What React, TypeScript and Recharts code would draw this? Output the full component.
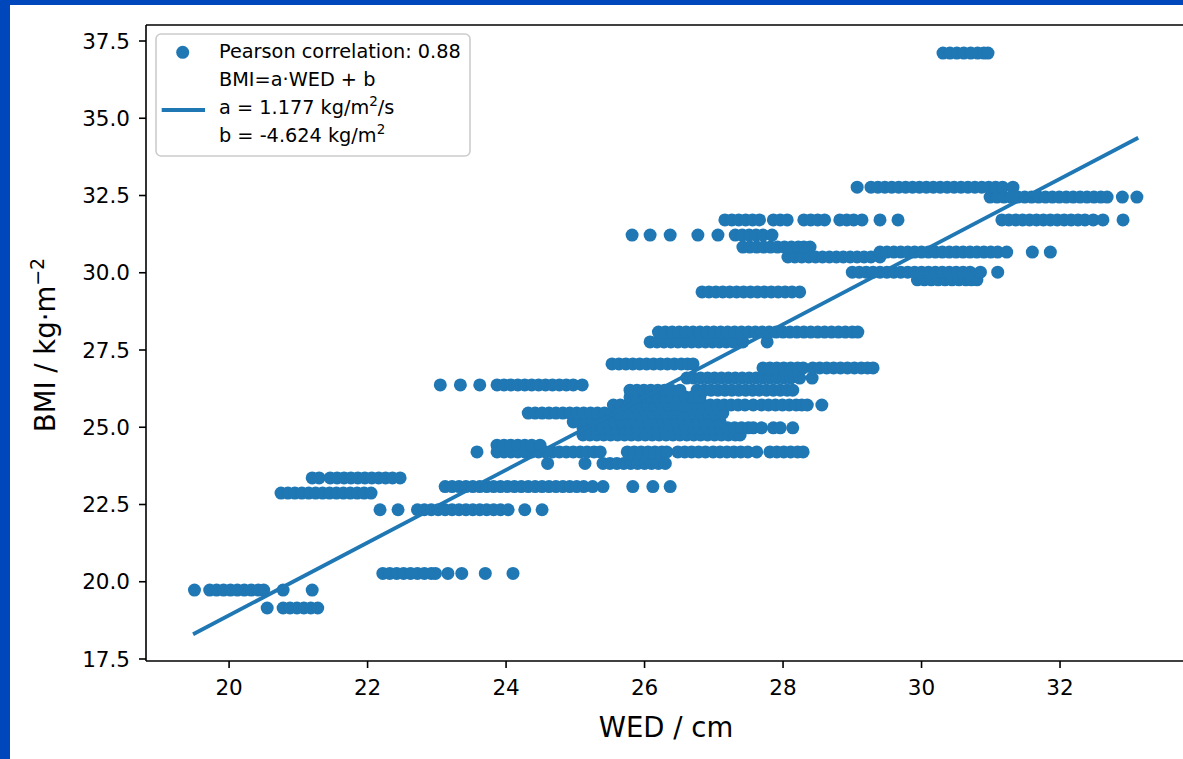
import { ScatterChart, Scatter, XAxis, YAxis, Legend } from "recharts";

const xTicks = [20, 22, 24, 26, 28, 30, 32];
const yTicks = [17.5, 20, 22.5, 25, 27.5, 30, 32.5, 35, 37.5];
const xDomain: [number, number] = [18.8, 33.877];
const yDomain: [number, number] = [17.435, 38.018];

// WED values (cm) of the points that sit on each BMI level
const wedAt19_15 = [20.55, 20.78, 20.88, 20.98, 21.08, 21.18, 21.28];
const wedAt19_73 = [19.5, 19.72, 19.82, 19.92, 20.02, 20.12, 20.22, 20.32, 20.42, 20.5, 20.78, 21.2];
const wedAt20_27 = [22.22, 22.32, 22.42, 22.52, 22.62, 22.72, 22.82, 22.92, 22.98, 23.16, 23.36, 23.7, 24.1];
const wedAt22_33 = [22.18, 22.44, 22.72, 22.82, 22.92, 23.02, 23.12, 23.22, 23.32, 23.42, 23.52, 23.62, 23.72, 23.82, 23.92, 24.03, 24.27, 24.52];
const wedAt22_87 = [20.75, 20.85, 20.95, 21.05, 21.15, 21.25, 21.35, 21.45, 21.55, 21.65, 21.75, 21.85, 21.95, 22.05];
const wedAt23_08 = [23.12, 23.22, 23.32, 23.42, 23.52, 23.62, 23.72, 23.82, 23.92, 24.02, 24.12, 24.22, 24.32, 24.42, 24.52, 24.62, 24.72, 24.82, 24.92, 25.02, 25.12, 25.25, 25.4, 25.83, 26.12, 26.37];
const wedAt23_36 = [21.2, 21.3, 21.46, 21.56, 21.66, 21.76, 21.86, 21.96, 22.06, 22.16, 22.26, 22.36, 22.47];
const wedAt23_83 = [24.6, 25.14, 25.4, 25.5, 25.6, 25.7, 25.8, 25.9, 26.0, 26.1, 26.2, 26.3];
const wedAt24_2 = [23.58, 23.87, 23.97, 24.07, 24.17, 24.27, 24.37, 24.47, 24.57, 24.67, 24.77, 24.87, 24.97, 25.07, 25.17, 25.27, 25.36, 25.75, 25.85, 25.95, 26.05, 26.15, 26.25, 26.32, 26.48, 26.58, 26.68, 26.78, 26.88, 26.99, 27.09, 27.19, 27.29, 27.39, 27.49, 27.62, 27.81, 27.91, 28.01, 28.11, 28.21, 28.29];
const wedAt24_42 = [23.87, 23.97, 24.07, 24.17, 24.27, 24.37, 24.49];
const wedAt24_75 = [25.11, 25.21, 25.31, 25.41, 25.51, 25.61, 25.71, 25.81, 25.91, 26.01, 26.11, 26.21, 26.31, 26.41, 26.51, 26.61, 26.71, 26.81, 26.91, 27.01, 27.11, 27.21, 27.31, 27.38];
const wedAt24_98 = [25.11, 25.2, 25.3, 25.4, 25.5, 25.6, 25.7, 25.8, 25.9, 26.0, 26.1, 26.2, 26.3, 26.4, 26.5, 26.6, 26.7, 26.8, 26.9, 27.0, 27.1, 27.2, 27.3, 27.4, 27.5, 27.57, 27.69, 27.86, 27.96, 28.14];
const wedAt25_17 = [24.97, 25.07, 25.17, 25.27, 25.37, 25.47, 25.57, 25.67, 25.77, 25.87, 25.97, 26.07, 26.17, 26.27, 26.37, 26.47, 26.57, 26.67, 26.77, 26.87, 26.97, 27.09];
const wedAt25_46 = [24.32, 24.42, 24.52, 24.62, 24.72, 24.82, 24.92, 25.02, 25.12, 25.22, 25.32, 25.42, 25.52, 25.62, 25.72, 25.82, 25.92, 26.02, 26.12, 26.22, 26.32, 26.42, 26.52, 26.62, 26.72, 26.82, 26.92, 27.02, 27.13];
const wedAt25_72 = [25.55, 25.65, 25.75, 25.85, 25.95, 26.05, 26.15, 26.25, 26.35, 26.45, 26.55, 26.65, 26.75, 26.85, 26.95, 27.05, 27.15, 27.25, 27.35, 27.45, 27.57, 27.69, 27.79, 27.89, 27.99, 28.09, 28.19, 28.27, 28.35, 28.56];
const wedAt25_98 = [25.79, 25.89, 25.99, 26.09, 26.19, 26.29, 26.39, 26.49, 26.59, 26.69, 26.8];
const wedAt26_2 = [25.79, 25.89, 25.99, 26.09, 26.19, 26.29, 26.39, 26.51, 26.76, 26.86, 26.96, 27.06, 27.16, 27.26, 27.36, 27.46, 27.56, 27.66, 27.76, 27.86, 27.96, 28.06, 28.14];
const wedAt26_37 = [23.05, 23.34, 23.62, 23.87, 23.97, 24.07, 24.17, 24.27, 24.37, 24.47, 24.57, 24.67, 24.77, 24.87, 24.97, 25.1];
const wedAt26_59 = [26.61, 26.71, 26.81, 26.91, 27.01, 27.11, 27.21, 27.31, 27.41, 27.51, 27.61, 27.71, 27.81, 27.91, 28.01, 28.11, 28.24, 28.42];
const wedAt26_92 = [27.71, 27.81, 27.91, 28.01, 28.11, 28.21, 28.29, 28.43, 28.53, 28.63, 28.73, 28.83, 28.93, 29.03, 29.13, 29.22, 29.3];
const wedAt27_05 = [25.53, 25.63, 25.73, 25.83, 25.93, 26.03, 26.13, 26.23, 26.33, 26.43, 26.53, 26.62, 26.7];
const wedAt27_76 = [26.08, 26.18, 26.28, 26.38, 26.48, 26.58, 26.68, 26.78, 26.88, 26.98, 27.08, 27.18, 27.28, 27.42, 27.77];
const wedAt28_08 = [26.2, 26.3, 26.4, 26.5, 26.6, 26.7, 26.8, 26.9, 27.0, 27.1, 27.2, 27.3, 27.4, 27.5, 27.6, 27.7, 27.8, 27.9, 28.0, 28.1, 28.2, 28.3, 28.4, 28.5, 28.6, 28.7, 28.8, 28.9, 29.0, 29.08];
const wedAt29_38 = [26.83, 26.93, 27.03, 27.13, 27.23, 27.33, 27.43, 27.53, 27.63, 27.73, 27.83, 27.93, 28.03, 28.13, 28.24];
const wedAt29_77 = [29.94, 30.04, 30.14, 30.24, 30.34, 30.44, 30.54, 30.64, 30.72, 30.8];
const wedAt30_02 = [29.0, 29.1, 29.2, 29.3, 29.4, 29.5, 29.6, 29.7, 29.8, 29.9, 30.0, 30.1, 30.2, 30.3, 30.4, 30.5, 30.6, 30.7, 30.85, 31.1];
const wedAt30_51 = [28.07, 28.17, 28.27, 28.37, 28.47, 28.57, 28.67, 28.77, 28.87, 28.97, 29.07, 29.17, 29.27, 29.4];
const wedAt30_67 = [29.4, 29.5, 29.6, 29.7, 29.8, 29.9, 30.0, 30.1, 30.2, 30.3, 30.4, 30.5, 30.6, 30.7, 30.8, 30.9, 31.0, 31.1, 31.23, 31.6, 31.86];
const wedAt30_83 = [27.42, 27.52, 27.62, 27.72, 27.82, 27.92, 28.02, 28.12, 28.22, 28.3, 28.39];
const wedAt31_22 = [25.82, 26.08, 26.37, 26.77, 27.06, 27.31, 27.41, 27.51, 27.61, 27.71, 27.84];
const wedAt31_71 = [27.16, 27.26, 27.36, 27.46, 27.56, 27.66, 27.86, 27.96, 28.06, 28.3, 28.4, 28.5, 28.6, 28.82, 28.92, 29.02, 29.14, 29.4, 29.66, 31.16, 31.26, 31.36, 31.46, 31.56, 31.66, 31.76, 31.86, 31.96, 32.06, 32.16, 32.26, 32.36, 32.48, 32.62, 32.91];
const wedAt32_45 = [30.99, 31.09, 31.19, 31.29, 31.39, 31.49, 31.59, 31.69, 31.79, 31.89, 31.99, 32.09, 32.19, 32.29, 32.39, 32.49, 32.59, 32.68, 32.9, 33.11];
const wedAt32_77 = [29.07, 29.27, 29.37, 29.47, 29.57, 29.67, 29.77, 29.87, 29.97, 30.07, 30.17, 30.27, 30.37, 30.47, 30.57, 30.67, 30.77, 30.87, 30.97, 31.07, 31.17, 31.32];
const wedAt37_11 = [30.31, 30.41, 30.51, 30.61, 30.71, 30.81, 30.9, 30.96];

const bmiRows: [number, number[]][] = [
  [19.15, wedAt19_15],
  [19.73, wedAt19_73],
  [20.27, wedAt20_27],
  [22.33, wedAt22_33],
  [22.87, wedAt22_87],
  [23.08, wedAt23_08],
  [23.36, wedAt23_36],
  [23.83, wedAt23_83],
  [24.2, wedAt24_2],
  [24.42, wedAt24_42],
  [24.75, wedAt24_75],
  [24.98, wedAt24_98],
  [25.17, wedAt25_17],
  [25.46, wedAt25_46],
  [25.72, wedAt25_72],
  [25.98, wedAt25_98],
  [26.2, wedAt26_2],
  [26.37, wedAt26_37],
  [26.59, wedAt26_59],
  [26.92, wedAt26_92],
  [27.05, wedAt27_05],
  [27.76, wedAt27_76],
  [28.08, wedAt28_08],
  [29.38, wedAt29_38],
  [29.77, wedAt29_77],
  [30.02, wedAt30_02],
  [30.51, wedAt30_51],
  [30.67, wedAt30_67],
  [30.83, wedAt30_83],
  [31.22, wedAt31_22],
  [31.71, wedAt31_71],
  [32.45, wedAt32_45],
  [32.77, wedAt32_77],
  [37.11, wedAt37_11],
];

// fitted line end points
const fitWed = [19.48, 33.13];
const fitBmi = [18.3, 34.37];

const BLUE = "#1f77b4";
const FONT = "DejaVu Sans";

const points = bmiRows.flatMap(([bmi, weds]) => weds.map((wed) => ({ wed, bmi })));
const fitPoints = fitWed.map((wed, i) => ({ wed, bmi: fitBmi[i] }));

// eslint-disable-next-line @typescript-eslint/no-explicit-any
const Dot = (props: any) => <circle cx={props.cx} cy={props.cy} r={6.5} fill={BLUE} />;
const NoDot = () => <g />;

function XTitle() {
  return (
    <text x={666} y={737} textAnchor="middle" fontSize={27.5} fontFamily={FONT} fill="#000">
      WED / cm
    </text>
  );
}

function YTitle() {
  return (
    <text transform="translate(55,345) rotate(-90)" textAnchor="middle" fontSize={27.5} fontFamily={FONT} fill="#000">
      BMI / kg·m
      <tspan dy={-11} fontSize={19}>
        −2
      </tspan>
    </text>
  );
}

function LegendBox() {
  return (
    <svg width={316} height={124} style={{ display: "block" }}>
      <rect x={1} y={1} width={314} height={122} rx={5} fill="#fff" fillOpacity={0.8} stroke="#cccccc" strokeWidth={1.6} />
      <circle cx={27.7} cy={19.3} r={6.5} fill={BLUE} />
      <line x1={6.7} x2={50} y1={77} y2={77} stroke={BLUE} strokeWidth={3.8} />
      <g fontFamily={FONT} fontSize={19.3} fill="#000">
        <text x={64} y={24.7}>Pearson correlation: 0.88</text>
        <text x={64} y={52.7}>BMI=a·WED + b</text>
        <text x={64} y={81.3}>
          a = 1.177 kg/m
          <tspan dy={-8} fontSize={13.5}>2</tspan>
          <tspan dy={8} fontSize={19.3}>/s</tspan>
        </text>
        <text x={64} y={108.7}>
          b = -4.624 kg/m
          <tspan dy={-8} fontSize={13.5}>2</tspan>
        </text>
      </g>
    </svg>
  );
}

const spine = { stroke: "#000", strokeWidth: 1.6 };
const tickStyle = { fontSize: 21.5, fill: "#000", fontFamily: FONT };

export default function App() {
  return (
    <div style={{ position: "fixed", left: 0, top: 0, width: 1183, height: 759, overflow: "hidden", background: "#0047bb" }}>
      <div style={{ position: "absolute", left: 10, top: 5, right: 0, bottom: 0, background: "#fff" }} />
      <div style={{ position: "absolute", left: 0, top: 0 }}>
        <ScatterChart width={1200} height={759} margin={{ top: 24, right: 9, bottom: 8, left: 46 }}>
          <XAxis
            type="number"
            dataKey="wed"
            domain={xDomain}
            ticks={xTicks}
            interval={0}
            allowDataOverflow
            height={90}
            tickSize={7}
            tickMargin={12}
            tick={tickStyle}
            tickLine={spine}
            axisLine={spine}
            label={<XTitle />}
          />
          <YAxis
            type="number"
            dataKey="bmi"
            domain={yDomain}
            ticks={yTicks}
            interval={0}
            allowDataOverflow
            width={100}
            tickSize={7}
            tickMargin={9}
            tick={tickStyle}
            tickLine={spine}
            axisLine={spine}
            tickFormatter={(v: number) => v.toFixed(1)}
            label={<YTitle />}
          />
          {/* mirrored axes only draw the top and right spines */}
          <XAxis xAxisId="top" orientation="top" type="number" domain={xDomain} allowDataOverflow height={1} tick={false} tickLine={false} axisLine={spine} />
          <YAxis yAxisId="right" orientation="right" type="number" domain={yDomain} allowDataOverflow width={1} tick={false} tickLine={false} axisLine={spine} />
          <Legend
            layout="horizontal"
            align="center"
            verticalAlign="middle"
            width={316}
            height={124}
            wrapperStyle={{ left: 155, top: 33, width: 316, height: 124 }}
            content={<LegendBox />}
          />
          <Scatter data={points} fill={BLUE} shape={Dot} isAnimationActive={false} legendType="none" />
          <Scatter
            data={fitPoints}
            fill={BLUE}
            stroke={BLUE}
            strokeWidth={3.8}
            line={{ stroke: BLUE, strokeWidth: 3.8 }}
            shape={NoDot}
            isAnimationActive={false}
            legendType="none"
          />
        </ScatterChart>
      </div>
    </div>
  );
}
